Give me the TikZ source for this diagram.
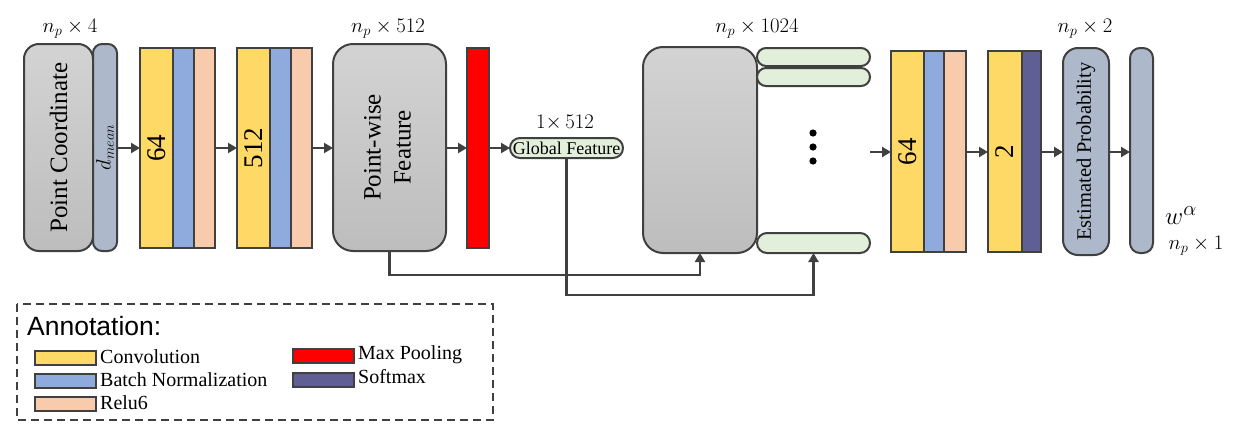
\documentclass[tikz,border=0pt]{standalone}
\usepackage{fontspec}
\setmainfont{Liberation Serif}
\newfontfamily\annsans{Liberation Sans}
\usetikzlibrary{arrows.meta,calc}
\definecolor{bordc}{HTML}{404040}
\definecolor{convc}{HTML}{FFD966}
\definecolor{bnc}{HTML}{8FAADC}
\definecolor{reluc}{HTML}{F8CBAD}
\definecolor{poolc}{HTML}{FF0000}
\definecolor{softc}{HTML}{5F5F95}
\definecolor{steelc}{HTML}{ADB9CA}
\definecolor{greenc}{HTML}{E2EFDA}
\definecolor{graytop}{HTML}{D3D3D3}
\definecolor{graybot}{HTML}{BDBDBD}
\newcommand{\fs}[1]{\fontsize{#1}{#1}\selectfont}
\tikzset{
  blk/.style={draw=bordc, line width=2pt, inner sep=0pt, outer sep=0pt},
  layer/.style={blk, minimum width=#1},
  graybox/.style={blk, rounded corners=#1, top color=graytop, bottom color=graybot},
  arr/.style={draw=bordc, line width=2.5pt, -{Triangle[length=9pt,width=10pt]}},
  dimlbl/.style={inner sep=0pt, font=\fs{22}},
  swatch/.style={blk, minimum width=61pt, minimum height=14pt},
  legtxt/.style={anchor=west, inner sep=0pt, font=\fs{20}},
}
\begin{document}
\begin{tikzpicture}[x=1pt,y=-1pt]
\useasboundingbox (0,0) rectangle (1233,431);
% input
\node[graybox=15pt, minimum width=69pt, minimum height=207pt] (pc) at (58.5,147.5) {\rotatebox{90}{\fs{25}Point Coordinate}};
\node[blk, rounded corners=9pt, fill=steelc, minimum width=24pt, minimum height=207pt] (dm) at (105,147.5) {\rotatebox{90}{\fs{22}$d_{mean}$}};
\node[dimlbl] (l1) at (70,29) {$n_p\times 4$};
% conv block 1
\node[layer=33pt, minimum height=200pt, fill=convc] (c1y) at (156.5,148) {\rotatebox{90}{\fs{27}64}};
\node[layer=21pt, minimum height=200pt, fill=bnc] (c1b) at (183.5,148) {};
\node[layer=21pt, minimum height=200pt, fill=reluc] (c1r) at (204.5,148) {};
% conv block 2
\node[layer=33pt, minimum height=200pt, fill=convc] (c2y) at (253.5,148) {\rotatebox{90}{\fs{27}512}};
\node[layer=21pt, minimum height=200pt, fill=bnc] (c2b) at (280.5,148) {};
\node[layer=21pt, minimum height=200pt, fill=reluc] (c2r) at (301.5,148) {};
% point-wise feature
\node[graybox=20pt, minimum width=113pt, minimum height=207pt] (pw) at (389.5,147.5) {\rotatebox{90}{\fontsize{25}{30}\selectfont\begin{tabular}{@{}c@{}}Point-wise\\Feature\end{tabular}}};
\node[dimlbl] (l2) at (388,29) {$n_p\times 512$};
% max pooling
\node[layer=22pt, minimum height=200pt, fill=poolc] (mp) at (478,148) {};
% global feature
\node[blk, rounded corners=10pt, fill=greenc, minimum width=113pt, minimum height=20pt] (gf) at (566.5,148) {\fs{18}Global Feature};
\node[dimlbl] (l3) at (565,123) {$1{\times}\,512$};
% concat
\node[graybox=20pt, minimum width=114pt, minimum height=206pt] (big) at (700,150) {};
\node[dimlbl] (l4) at (757,29) {$n_p\times 1024$};
\node[blk, rounded corners=9pt, fill=greenc, minimum width=113pt, minimum height=18pt] (g1) at (813.5,57) {};
\node[blk, rounded corners=9pt, fill=greenc, minimum width=113pt, minimum height=18pt] (g2) at (813.5,77) {};
\node[blk, rounded corners=10pt, fill=greenc, minimum width=113pt, minimum height=20pt] (g3) at (813.5,243) {};
\fill[black] (813,133) circle (3.6pt) (813,147) circle (3.6pt) (813,161) circle (3.6pt);
\coordinate (gout) at (870,152);
% conv block 3
\node[layer=33pt, minimum height=201pt, fill=convc] (c3y) at (907.5,151.5) {\rotatebox{90}{\fs{27}64}};
\node[layer=20pt, minimum height=201pt, fill=bnc] (c3b) at (934,151.5) {};
\node[layer=22pt, minimum height=201pt, fill=reluc] (c3r) at (955,151.5) {};
% conv block 4
\node[layer=34pt, minimum height=201pt, fill=convc] (c4y) at (1005,151.5) {\rotatebox{90}{\fs{27}2}};
\node[layer=19pt, minimum height=201pt, fill=softc] (c4s) at (1031.5,151.5) {};
% estimated probability
\node[blk, rounded corners=15pt, fill=steelc, minimum width=46pt, minimum height=207pt] (ep) at (1086,151.5) {\rotatebox{90}{\fs{20.5}Estimated Probability}};
\node[dimlbl] (l5) at (1085,29) {$n_p\times 2$};
\node[blk, rounded corners=10pt, fill=steelc, minimum width=23pt, minimum height=205pt] (fb) at (1141.5,150.5) {};
\node[inner sep=0pt, font=\fs{28}] (wa) at (1181,216) {$w^{\alpha}$};
\node[dimlbl] (l6) at (1196,246) {$n_p\times 1$};
% arrows
\draw[arr] (dm.east |- c1y.west) -- (c1y.west);
\draw[arr] (c1r.east) -- (c2y.west);
\draw[arr] (c2r.east) -- (c2r.east -| pw.west);
\draw[arr] (pw.east |- mp.west) -- (mp.west);
\draw[arr] (mp.east) -- (gf.west);
\draw[arr] (gout) -- (gout -| c3y.west);
\draw[arr] (c3r.east |- gout) -- (c4y.west |- gout);
\draw[arr] (c4s.east |- gout) -- (ep.west |- gout);
\draw[arr] (ep.east |- gout) -- (fb.west |- gout);
\draw[arr] (pw.south) -- ++(0,24) -| (big.south);
\draw[arr] (gf.south) -- ++(0,137) -| (g3.south);
% legend
\draw[draw=bordc, line width=1.5pt, dash pattern=on 8pt off 5pt] (17,304) rectangle (493,420);
\node[anchor=west, inner sep=0pt, font=\annsans\fs{26.5}] (ann) at (27,326) {Annotation:};
\node[swatch, fill=convc] (s1) at (65.5,358) {};
\node[swatch, fill=bnc] (s2) at (65.5,381) {};
\node[swatch, fill=reluc] (s3) at (65.5,404) {};
\node[swatch, fill=poolc] (s4) at (323.5,356) {};
\node[swatch, fill=softc] (s5) at (323.5,379.5) {};
\node[legtxt] (t1) at (100,357) {Convolution};
\node[legtxt] (t2) at (100,380) {Batch Normalization};
\node[legtxt] (t3) at (100,403) {Relu6};
\node[legtxt] (t4) at (358,355) {Max Pooling};
\node[legtxt] (t5) at (358,377) {Softmax};
\end{tikzpicture}
\end{document}
